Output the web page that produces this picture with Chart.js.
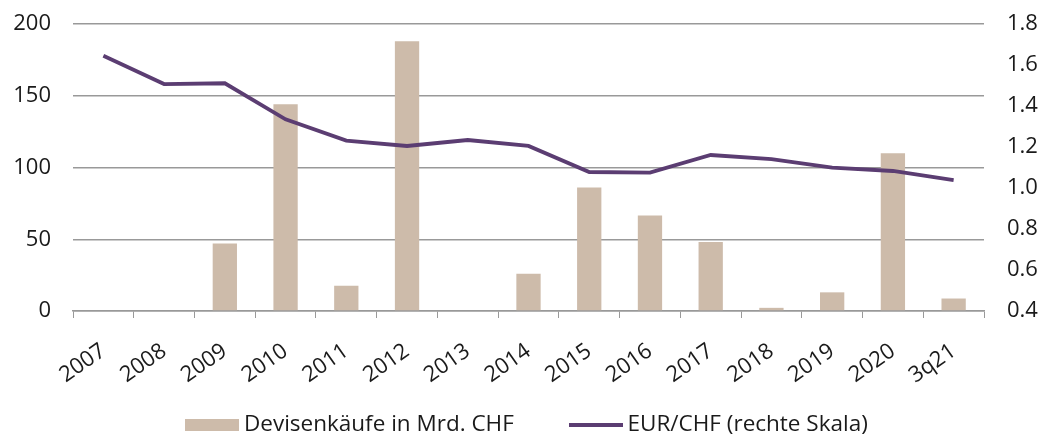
<!DOCTYPE html>
<html><head><meta charset="utf-8">
<script src="https://cdn.jsdelivr.net/npm/chart.js@4"></script>
<style>html,body{margin:0;padding:0;background:#fff}#w{width:1045px;height:438px}</style>
</head><body><div id="w"><canvas id="c"></canvas></div>
<script>
const categories = ["2007","2008","2009","2010","2011","2012","2013","2014","2015","2016","2017","2018","2019","2020","3q21"];
const fxPurchases = [0,0,47,144,17.6,188,0,26,86,66.5,48,2.2,13,110,8.7];
const eurChf = [1.645,1.507,1.511,1.335,1.231,1.205,1.234,1.205,1.078,1.075,1.161,1.141,1.099,1.083,1.039];
const leftTicks = [0,50,100,150,200];
const rightTicks = [0.4,0.6,0.8,1.0,1.2,1.4,1.6,1.8];

const BAR_COLOR = '#cdbbaa';
const LINE_COLOR = '#5b3d72';
const FONT = "'Open Sans', 'Noto Sans', sans-serif";
Chart.defaults.font.family = FONT;
Chart.defaults.font.size = 22;
Chart.defaults.color = '#1a1a1a';

function legendSwatch(w, h, color){
  const c = document.createElement('canvas');
  c.width = w; c.height = h;
  const g = c.getContext('2d');
  g.fillStyle = color; g.fillRect(0,0,w,h);
  return c;
}
const barSwatch = legendSwatch(54, 12, BAR_COLOR);
const lineSwatch = legendSwatch(54, 4, LINE_COLOR);

new Chart(document.getElementById('c'), {
  data: {
    labels: categories,
    datasets: [
      { type:'line', label:'EUR/CHF (rechte Skala)', data: eurChf, yAxisID:'y2',
        borderColor:LINE_COLOR, backgroundColor:LINE_COLOR, borderWidth:3.8, pointRadius:0, tension:0, order:0 },
      { type:'bar', label:'Devisenkäufe in Mrd. CHF', data: fxPurchases, yAxisID:'y',
        backgroundColor:BAR_COLOR, borderWidth:0, barPercentage:0.8, categoryPercentage:0.5, order:1 }
    ]
  },
  options: {
    responsive:true, maintainAspectRatio:false, animation:false,
    layout:{ padding:{ left:14, right:0, top:24, bottom:1.75 } },
    plugins:{
      legend:{ position:'bottom', reverse:true, maxHeight:83.5,
        labels:{ font:{size:22.5, family:FONT}, color:'#1a1a1a', padding:61,
          usePointStyle:true, pointStyleWidth:41.5, boxHeight:12,
          generateLabels(chart){
            const items = Chart.defaults.plugins.legend.labels.generateLabels(chart);
            items.forEach(it=>{ it.pointStyle = it.datasetIndex===0 ? lineSwatch : barSwatch; });
            return items;
          }
        } },
      tooltip:{enabled:false}
    },
    scales:{
      x:{ offset:true,
        afterFit(s){
          s.height = 41.75; s.paddingLeft = 0; s.paddingRight = 0;
          s._computeLabelArea = function(){ return {top:this.top, left:0, bottom:this.chart.height, right:this.chart.width}; };
        },
        grid:{ display:true, offset:true, drawOnChartArea:false, drawTicks:true, tickLength:7, color:'#999' },
        border:{ display:true, color:'#999', width:1.5 },
        ticks:{ minRotation:35, maxRotation:35, font:{size:22}, color:'#1a1a1a', padding:20 } },
      y:{ position:'left', min:0, max:200,
        afterBuildTicks(ax){ ax.ticks = leftTicks.map(v=>({value:v})); },
        afterFit(s){ s.width = 59; s.paddingTop = 0; s.paddingBottom = 0; },
        grid:{ color:'#999', lineWidth:1.5, drawTicks:false },
        border:{ display:false },
        ticks:{ font:{size:22}, color:'#1a1a1a', padding:22 } },
      y2:{ position:'right', min:0.4, max:1.8,
        afterBuildTicks(ax){ ax.ticks = rightTicks.map(v=>({value:v})); },
        afterFit(s){ s.width = 61; s.paddingTop = 0; s.paddingBottom = 0; },
        grid:{ display:false, drawTicks:false },
        border:{ display:false },
        ticks:{ font:{size:22}, color:'#1a1a1a', padding:23, callback:v=>Number(v).toFixed(1) } }
    }
  }
});
</script></body></html>
